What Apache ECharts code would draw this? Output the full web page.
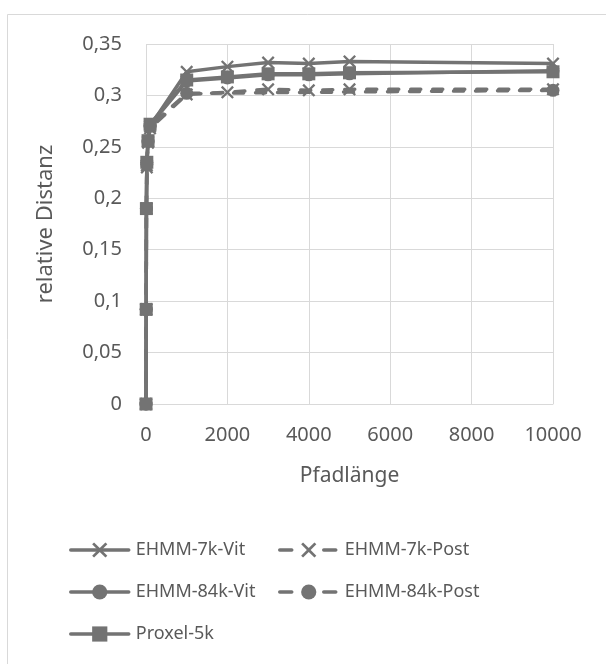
<!DOCTYPE html>
<html>
<head>
<meta charset="utf-8">
<script src="https://cdn.jsdelivr.net/npm/echarts@6/dist/echarts.min.js"></script>
<style>
  html, body { margin: 0; padding: 0; background: #fff; }
  #main { width: 606px; height: 664px; }
</style>
</head>
<body>
<div id="main"></div>
<script>
// Pfadlänge (x) und relative Distanz (y)
var pfadLaenge = [0, 5, 10, 20, 50, 100, 1000, 2000, 3000, 4000, 5000, 10000];
var pfadKurz = [0, 5, 10, 20, 50, 100, 1000, 10000];

var ehmm7kVit = [0, 0.092, 0.19, 0.232, 0.255, 0.27, 0.323, 0.328, 0.332, 0.331, 0.333, 0.331];
var ehmm7kPost = [0, 0.092, 0.19, 0.23, 0.254, 0.268, 0.301, 0.303, 0.306, 0.305, 0.306, 0.306];
var ehmm84kVit = [0, 0.092, 0.19, 0.235, 0.256, 0.271, 0.314, 0.317, 0.32, 0.32, 0.321, 0.324];
var ehmm84kPost = [0, 0.092, 0.19, 0.233, 0.255, 0.27, 0.302, 0.305];
var proxel5k = [0, 0.092, 0.19, 0.235, 0.256, 0.272, 0.315, 0.318, 0.321, 0.321, 0.322, 0.323];

var yTicks = [0, 0.05, 0.1, 0.15, 0.2, 0.25, 0.3, 0.35];
var xTicks = [0, 2000, 4000, 6000, 8000, 10000];

var grau = '#737373';
var textFarbe = '#595959';
var kreuz = 'path://M1.5,0 L6,4.5 L10.5,0 L12,1.5 L7.5,6 L12,10.5 L10.5,12 L6,7.5 L1.5,12 L0,10.5 L4.5,6 L0,1.5 Z';

function paare(xs, ys) {
  var out = [];
  for (var i = 0; i < xs.length; i++) out.push([xs[i], ys[i]]);
  return out;
}

function reihe(name, xs, ys, symbol, size, gestrichelt) {
  return {
    name: name,
    type: 'line',
    data: paare(xs, ys),
    symbol: symbol,
    symbolSize: size,
    showAllSymbol: true,
    color: grau,
    itemStyle: { color: grau },
    lineStyle: {
      color: grau,
      width: 3.5,
      type: gestrichelt ? [10, 12] : 'solid',
      cap: 'round'
    },
    emphasis: { disabled: true },
    animation: false
  };
}

function legende(name, left, top, gestrichelt) {
  return {
    data: [name],
    left: left,
    top: top,
    itemWidth: 58,
    itemHeight: 19,
    itemGap: 0,
    lineStyle: { width: 3.5, type: gestrichelt ? [12, 32, 12] : 'solid' },
    textStyle: { color: textFarbe, fontSize: 18, fontFamily: 'Noto Sans', padding: [0, 0, 0, 2] },
    selectedMode: false
  };
}

var chart = echarts.init(document.getElementById('main'), null, { renderer: 'canvas' });

var option = {
  backgroundColor: '#fff',
  textStyle: { fontFamily: 'Noto Sans' },
  graphic: [{
    type: 'rect',
    shape: { x: 7.5, y: 14.5, width: 700, height: 700 },
    style: { fill: 'none', stroke: '#d9d9d9', lineWidth: 1 },
    silent: true
  }],
  grid: { left: 146, right: 53, top: 44, bottom: 260 },
  legend: [
    legende('EHMM-7k-Vit', 64, 536, false),
    legende('EHMM-7k-Post', 273, 536, true),
    legende('EHMM-84k-Vit', 64, 578, false),
    legende('EHMM-84k-Post', 273, 578, true),
    legende('Proxel-5k', 64, 620, false)
  ],
  xAxis: {
    type: 'value',
    min: xTicks[0],
    max: xTicks[xTicks.length - 1],
    interval: xTicks[1] - xTicks[0],
    name: 'Pfadlänge',
    nameLocation: 'middle',
    nameGap: 62,
    nameTextStyle: { color: textFarbe, fontSize: 21 },
    axisLine: { show: true, lineStyle: { color: '#d9d9d9', width: 1 } },
    axisTick: { show: false },
    axisLabel: {
      color: textFarbe,
      fontSize: 20,
      margin: 21,
      formatter: function (v) { return String(v); }
    },
    splitLine: { show: true, lineStyle: { color: '#d9d9d9', width: 1 } }
  },
  yAxis: {
    type: 'value',
    min: yTicks[0],
    max: yTicks[yTicks.length - 1],
    interval: yTicks[1] - yTicks[0],
    name: 'relative Distanz',
    nameLocation: 'middle',
    nameRotate: 90,
    nameGap: 89,
    nameTextStyle: { color: textFarbe, fontSize: 22 },
    axisLine: { show: false },
    axisTick: { show: false },
    axisLabel: {
      color: textFarbe,
      fontSize: 20,
      margin: 24,
      formatter: function (v) {
        return String(+v.toFixed(2)).replace('.', ',');
      }
    },
    splitLine: { show: true, lineStyle: { color: '#d9d9d9', width: 1 } }
  },
  series: [
    reihe('EHMM-7k-Vit', pfadLaenge, ehmm7kVit, kreuz, 13, false),
    reihe('EHMM-7k-Post', pfadLaenge, ehmm7kPost, kreuz, 13, true),
    reihe('EHMM-84k-Vit', pfadLaenge, ehmm84kVit, 'circle', 13, false),
    reihe('EHMM-84k-Post', pfadKurz, ehmm84kPost, 'circle', 13, true),
    reihe('Proxel-5k', pfadLaenge, proxel5k, 'rect', 13, false)
  ]
};

chart.setOption(option);
</script>
</body>
</html>
